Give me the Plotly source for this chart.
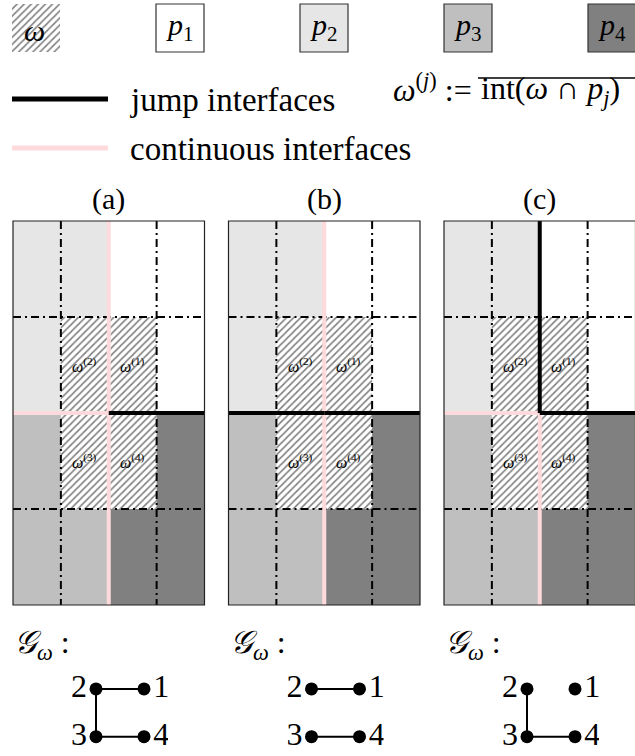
import plotly.graph_objects as go

W, H = 635, 756
FONT = "Liberation Serif"

# ---------------- data ----------------
PARTITION_NAMES = ["1", "2", "3", "4"]
PARTITION_COLORS = ["#ffffff", "#e6e6e6", "#bfbfbf", "#808080"]
# partition blocks in grid units (rows counted from the top)
PARTITION_COLS = [(2, 4), (0, 2), (0, 2), (2, 4)]
PARTITION_ROWS = [(0, 2), (0, 2), (2, 4), (2, 4)]
GRID_SIZE = 4
OMEGA_COLS = (1, 3)
OMEGA_ROWS = (1, 3)
MESH_LINES = [1, 3]                      # dash-dot mesh lines
OMEGA_SUB_LABELS = ["(1)", "(2)", "(3)", "(4)"]
OMEGA_SUB_COL = [2, 1, 1, 2]
OMEGA_SUB_ROW = [1, 1, 2, 2]
PANEL_TITLES = ["(a)", "(b)", "(c)"]
# interfaces between partitions: start / end in grid units and the pair they separate
INTERFACE_X0 = [2, 2, 0, 2]
INTERFACE_Y0 = [0, 2, 2, 2]
INTERFACE_X1 = [2, 2, 2, 4]
INTERFACE_Y1 = [2, 4, 2, 2]
INTERFACE_PAIRS = [(2, 1), (3, 4), (2, 3), (1, 4)]
PANEL_INTERFACES = [
    ["cont", "cont", "cont", "jump"],
    ["cont", "cont", "jump", "jump"],
    ["jump", "cont", "cont", "jump"],
]
GRAPH_NODES = [1, 2, 3, 4]
GRAPH_NODE_COL = [1, 0, 0, 1]
GRAPH_NODE_ROW = [0, 0, 1, 1]
LEGEND_LINE_LABELS = ["jump interfaces", "continuous interfaces"]

# ---------------- styles / layout ----------------
JUMP_COLOR = "black"
CONT_COLOR = "#ffdadd"
IFACE_W = 4
PANEL_LEFT = [13, 228.5, 444]
PANEL_W, PANEL_TOP, PANEL_H = 191.5, 221, 384
PAD = 4
HATCH = dict(shape="/", fgcolor="black", size=5, solidity=0.32, fillmode="overlay")

fig = go.Figure()
layout = dict(
    width=W, height=H, autosize=False,
    margin=dict(l=0, r=0, t=0, b=0),
    paper_bgcolor="white", plot_bgcolor="rgba(0,0,0,0)",
    showlegend=False, barmode="overlay",
    font=dict(family=FONT, color="black"),
)
AX = dict(visible=False, showgrid=False, zeroline=False, fixedrange=True)


def add_axes(n, px0, px1, py0, py1, u0, u1, v0, v1):
    """Place axis pair n on the page: pixel box -> data range (y reversed)."""
    if px1 > W:
        u1 = u0 + (u1 - u0) * (W - px0) / (px1 - px0)
        px1 = W
    sx = "" if n == 1 else str(n)
    layout["xaxis" + sx] = dict(AX, domain=[px0 / W, px1 / W], range=[u0, u1],
                                anchor="y" + sx)
    layout["yaxis" + sx] = dict(AX, domain=[1 - py1 / H, 1 - py0 / H], range=[v1, v0],
                                anchor="x" + sx)
    return "x" + sx, "y" + sx


# canvas axis in page pixels
cx, cy = add_axes(1, 0, W, 0, H, 0, W, 0, H)

shapes, annots = [], []
unit_x = PANEL_W / GRID_SIZE
unit_y = PANEL_H / GRID_SIZE

for p, left in enumerate(PANEL_LEFT):
    xa, ya = add_axes(2 + p, left - PAD, left + PANEL_W + PAD,
                      PANEL_TOP - PAD, PANEL_TOP + PANEL_H + PAD,
                      -PAD / unit_x, GRID_SIZE + PAD / unit_x,
                      -PAD / unit_y, GRID_SIZE + PAD / unit_y)
    # partitions
    for k in range(len(PARTITION_NAMES)):
        c0, c1 = PARTITION_COLS[k]
        r0, r1 = PARTITION_ROWS[k]
        fig.add_trace(go.Bar(x=[(c0 + c1) / 2], y=[r1 - r0], base=[r0], width=[c1 - c0],
                             marker=dict(color=PARTITION_COLORS[k], line=dict(width=0)),
                             xaxis=xa, yaxis=ya, hoverinfo="skip"))
    # omega (hatched)
    fig.add_trace(go.Bar(x=[sum(OMEGA_COLS) / 2], y=[OMEGA_ROWS[1] - OMEGA_ROWS[0]],
                         base=[OMEGA_ROWS[0]], width=[OMEGA_COLS[1] - OMEGA_COLS[0]],
                         marker=dict(color="white", line=dict(width=0), pattern=HATCH),
                         xaxis=xa, yaxis=ya, hoverinfo="skip"))
    # dash-dot mesh
    for g in MESH_LINES:
        for (x0, y0, x1, y1) in [(g, 0, g, GRID_SIZE), (0, g, GRID_SIZE, g)]:
            shapes.append(dict(type="line", xref=xa, yref=ya, x0=x0, y0=y0, x1=x1, y1=y1,
                               line=dict(color="black", width=2, dash="8px,4px,2px,4px"),
                               layer="above"))
    # interfaces: continuous first, then jumps on top
    for kind, col in [("cont", CONT_COLOR), ("jump", JUMP_COLOR)]:
        for i, t in enumerate(PANEL_INTERFACES[p]):
            if t == kind:
                shapes.append(dict(type="line", xref=xa, yref=ya,
                                   x0=INTERFACE_X0[i], y0=INTERFACE_Y0[i],
                                   x1=INTERFACE_X1[i], y1=INTERFACE_Y1[i],
                                   line=dict(color=col, width=IFACE_W), layer="above"))
    # border
    shapes.append(dict(type="rect", xref=xa, yref=ya, x0=0, y0=0, x1=GRID_SIZE, y1=GRID_SIZE,
                       line=dict(color="#222222", width=1.2), layer="above"))
    # omega^(j) labels
    for j, lab in enumerate(OMEGA_SUB_LABELS):
        annots.append(dict(xref=xa, yref=ya, x=OMEGA_SUB_COL[j] + 0.5, y=OMEGA_SUB_ROW[j] + 0.5,
                           text="<i>ω</i><sup>" + lab + "</sup>", showarrow=False,
                           font=dict(size=16, family=FONT)))
    # panel title
    annots.append(dict(xref=xa, yref=cy, x=GRID_SIZE / 2, y=199, text=PANEL_TITLES[p],
                       showarrow=False, font=dict(size=30, family=FONT)))

    # ---- graph G_omega ----
    gx, gy = add_axes(5 + p, left + 83 - 24, left + 131 + 24, 689 - 24, 737 + 14,
                      -0.5, 1.5, -0.5, 1.3)
    for i, t in enumerate(PANEL_INTERFACES[p]):
        if t == "cont":
            a, b = INTERFACE_PAIRS[i]
            ia, ib = GRAPH_NODES.index(a), GRAPH_NODES.index(b)
            fig.add_trace(go.Scatter(x=[GRAPH_NODE_COL[ia], GRAPH_NODE_COL[ib]],
                                     y=[GRAPH_NODE_ROW[ia], GRAPH_NODE_ROW[ib]],
                                     mode="lines", line=dict(color="black", width=2),
                                     xaxis=gx, yaxis=gy, hoverinfo="skip"))
    for side, pos in [(0, "middle left"), (1, "middle right")]:
        idx = [i for i in range(len(GRAPH_NODES)) if GRAPH_NODE_COL[i] == side]
        fig.add_trace(go.Scatter(x=[GRAPH_NODE_COL[i] for i in idx],
                                 y=[GRAPH_NODE_ROW[i] for i in idx],
                                 text=[str(GRAPH_NODES[i]) for i in idx],
                                 mode="markers+text", textposition=pos,
                                 marker=dict(color="black", size=13),
                                 textfont=dict(size=32, family=FONT, color="black"),
                                 xaxis=gx, yaxis=gy, hoverinfo="skip"))
    annots.append(dict(xref=cx, yref=cy, x=left - 1, y=644, xanchor="left",
                       text="<i>𝒢</i><sub><i>ω</i></sub> :", showarrow=False,
                       font=dict(size=32, family=FONT)))

# ---------------- legend (top) ----------------
BOX, BOX_TOP = 48, 4
box_x = [12 + 144 * i for i in range(len(PARTITION_NAMES) + 1)]
fig.add_trace(go.Bar(x=[box_x[0] + BOX / 2], y=[BOX], base=[BOX_TOP], width=[BOX],
                     marker=dict(color="white", line=dict(width=0), pattern=HATCH),
                     xaxis=cx, yaxis=cy, hoverinfo="skip"))
annots.append(dict(xref=cx, yref=cy, x=box_x[0] + BOX / 2 - 2, y=BOX_TOP + 26,
                   text="<i>ω</i>", showarrow=False, font=dict(size=30, family=FONT)))
for k, name in enumerate(PARTITION_NAMES):
    x0 = box_x[k + 1]
    shapes.append(dict(type="rect", xref=cx, yref=cy, x0=x0, x1=x0 + BOX,
                       y0=BOX_TOP, y1=BOX_TOP + BOX, fillcolor=PARTITION_COLORS[k],
                       line=dict(color="#333333", width=1.2), layer="below"))
    annots.append(dict(xref=cx, yref=cy, x=x0 + BOX / 2, y=BOX_TOP + 23,
                       text="<i>p</i><sub>" + name + "</sub>", showarrow=False,
                       font=dict(size=30, family=FONT)))

for i, (lab, col) in enumerate(zip(LEGEND_LINE_LABELS, [JUMP_COLOR, CONT_COLOR])):
    yy = 99 + 49 * i
    shapes.append(dict(type="line", xref=cx, yref=cy, x0=12, x1=108, y0=yy, y1=yy,
                       line=dict(color=col, width=5), layer="below"))
    annots.append(dict(xref=cx, yref=cy, x=128, y=yy + 1, xanchor="left", text=lab,
                       showarrow=False, font=dict(size=33, family=FONT)))

annots.append(dict(xref=cx, yref=cy, x=391, y=88, xanchor="left",
                   text="<i>ω</i><sup>(<i>j</i>)</sup> :=", showarrow=False,
                   font=dict(size=32, family=FONT)))
annots.append(dict(xref=cx, yref=cy, x=479, y=90, xanchor="left",
                   text="int(<i>ω</i> ∩ <i>p</i><sub><i>j</i></sub>)", showarrow=False,
                   font=dict(size=32, family=FONT)))
shapes.append(dict(type="line", xref=cx, yref=cy, x0=478, x1=W + 5, y0=78, y1=78,
                   line=dict(color="black", width=1.5), layer="below"))

layout["shapes"] = shapes
layout["annotations"] = annots
fig.update_layout(**layout)

fig.write_html("out.html", include_plotlyjs=True, config={"displayModeBar": False},
               post_script="document.body.style.margin='0';document.body.style.overflow='hidden';")
